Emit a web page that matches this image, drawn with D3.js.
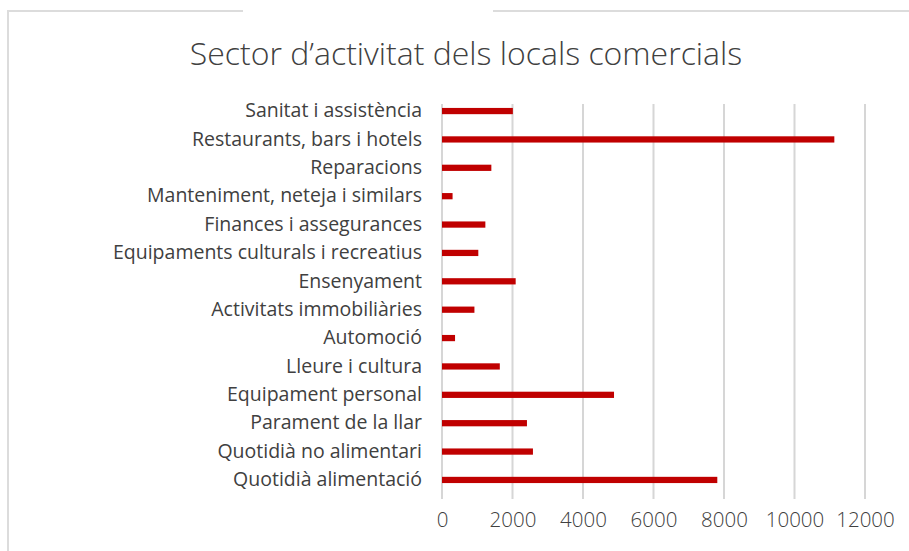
<!DOCTYPE html>
<html>
<head>
<meta charset="utf-8">
<script src="https://cdnjs.cloudflare.com/ajax/libs/d3/7.8.5/d3.min.js"></script>
<style>
  body { margin: 0; background: #fff; }
  svg { display: block; }
  text { font-family: "Open Sans", Roboto, sans-serif; fill: #404040; }
</style>
</head>
<body>
<div id="chart"></div>
<script>
// categories, top to bottom
var sectors = [
    "Sanitat i assistència",
    "Restaurants, bars i hotels",
    "Reparacions",
    "Manteniment, neteja i similars",
    "Finances i assegurances",
    "Equipaments culturals i recreatius",
    "Ensenyament",
    "Activitats immobiliàries",
    "Automoció",
    "Lleure i cultura",
    "Equipament personal",
    "Parament de la llar",
    "Quotidià no alimentari",
    "Quotidià alimentació"
];

// nombre de locals
var locals = [2010, 11130, 1400, 300, 1230, 1030, 2090, 920, 370, 1640, 4880, 2410, 2580, 7810];

var xTicks = [0, 2000, 4000, 6000, 8000, 10000, 12000];

var titleText = "Sector d\u2019activitat dels locals comercials";

// dimensions
var W = 909, H = 551;
var margin = { top: 98, right: 44, bottom: 58, left: 442 },
    width = W - margin.left - margin.right,
    height = H - margin.top - margin.bottom;

var svg = d3.select("#chart").append("svg")
    .attr("width", W)
    .attr("height", H);

// faint frame round the picture
svg.append("line").attr("x1", 8).attr("x2", 8).attr("y1", 11).attr("y2", H)
    .attr("stroke", "#dcdcdc").attr("stroke-width", 2);
svg.append("line").attr("x1", 7).attr("x2", 243).attr("y1", 11).attr("y2", 11)
    .attr("stroke", "#dcdcdc").attr("stroke-width", 2);
svg.append("line").attr("x1", 493).attr("x2", W).attr("y1", 11).attr("y2", 11)
    .attr("stroke", "#dcdcdc").attr("stroke-width", 2);

// title
svg.append("text")
    .attr("x", 466)
    .attr("y", 65)
    .attr("text-anchor", "middle")
    .style("font-size", "32px")
    .style("font-weight", 300)
    .text(titleText);

var g = svg.append("g")
    .attr("transform", "translate(" + margin.left + "," + margin.top + ")");

var x = d3.scaleLinear().domain([0, 12000]).range([0, 423]);
var y = d3.scaleBand().domain(sectors).range([0, 395]).paddingInner(0.78).paddingOuter(0.35);

// grid lines
g.append("g")
    .selectAll("line")
    .data(xTicks)
    .enter().append("line")
    .attr("x1", function (d) { return x(d); })
    .attr("x2", function (d) { return x(d); })
    .attr("y1", 6)
    .attr("y2", 401)
    .attr("stroke", "#d6d6d6")
    .attr("stroke-width", 2);

// bars
g.append("g")
    .selectAll("rect")
    .data(locals)
    .enter().append("rect")
    .attr("x", x(0))
    .attr("y", function (d, i) { return y(sectors[i]); })
    .attr("width", function (d) { return x(d) - x(0); })
    .attr("height", y.bandwidth())
    .attr("fill", "#c00000");

// x axis labels
var xAxis = g.append("g")
    .attr("transform", "translate(0," + 401 + ")")
    .call(d3.axisBottom(x).tickValues(xTicks).tickSize(0).tickPadding(13).tickFormat(d3.format("d")));
xAxis.select(".domain").remove();
xAxis.selectAll("text")
    .style("font-size", "20.5px")
    .style("font-family", "\"Open Sans\", sans-serif")
    .style("font-weight", 300)
    .attr("fill", "#404040");

// y axis labels
var yAxis = g.append("g")
    .attr("transform", "translate(-20,0)")
    .call(d3.axisLeft(y).tickSize(0).tickPadding(0));
yAxis.select(".domain").remove();
yAxis.selectAll("text")
    .style("font-size", "19.5px")
    .style("font-family", "\"Open Sans\", sans-serif")
    .style("font-weight", 400)
    .attr("fill", "#404040");
</script>
</body>
</html>
